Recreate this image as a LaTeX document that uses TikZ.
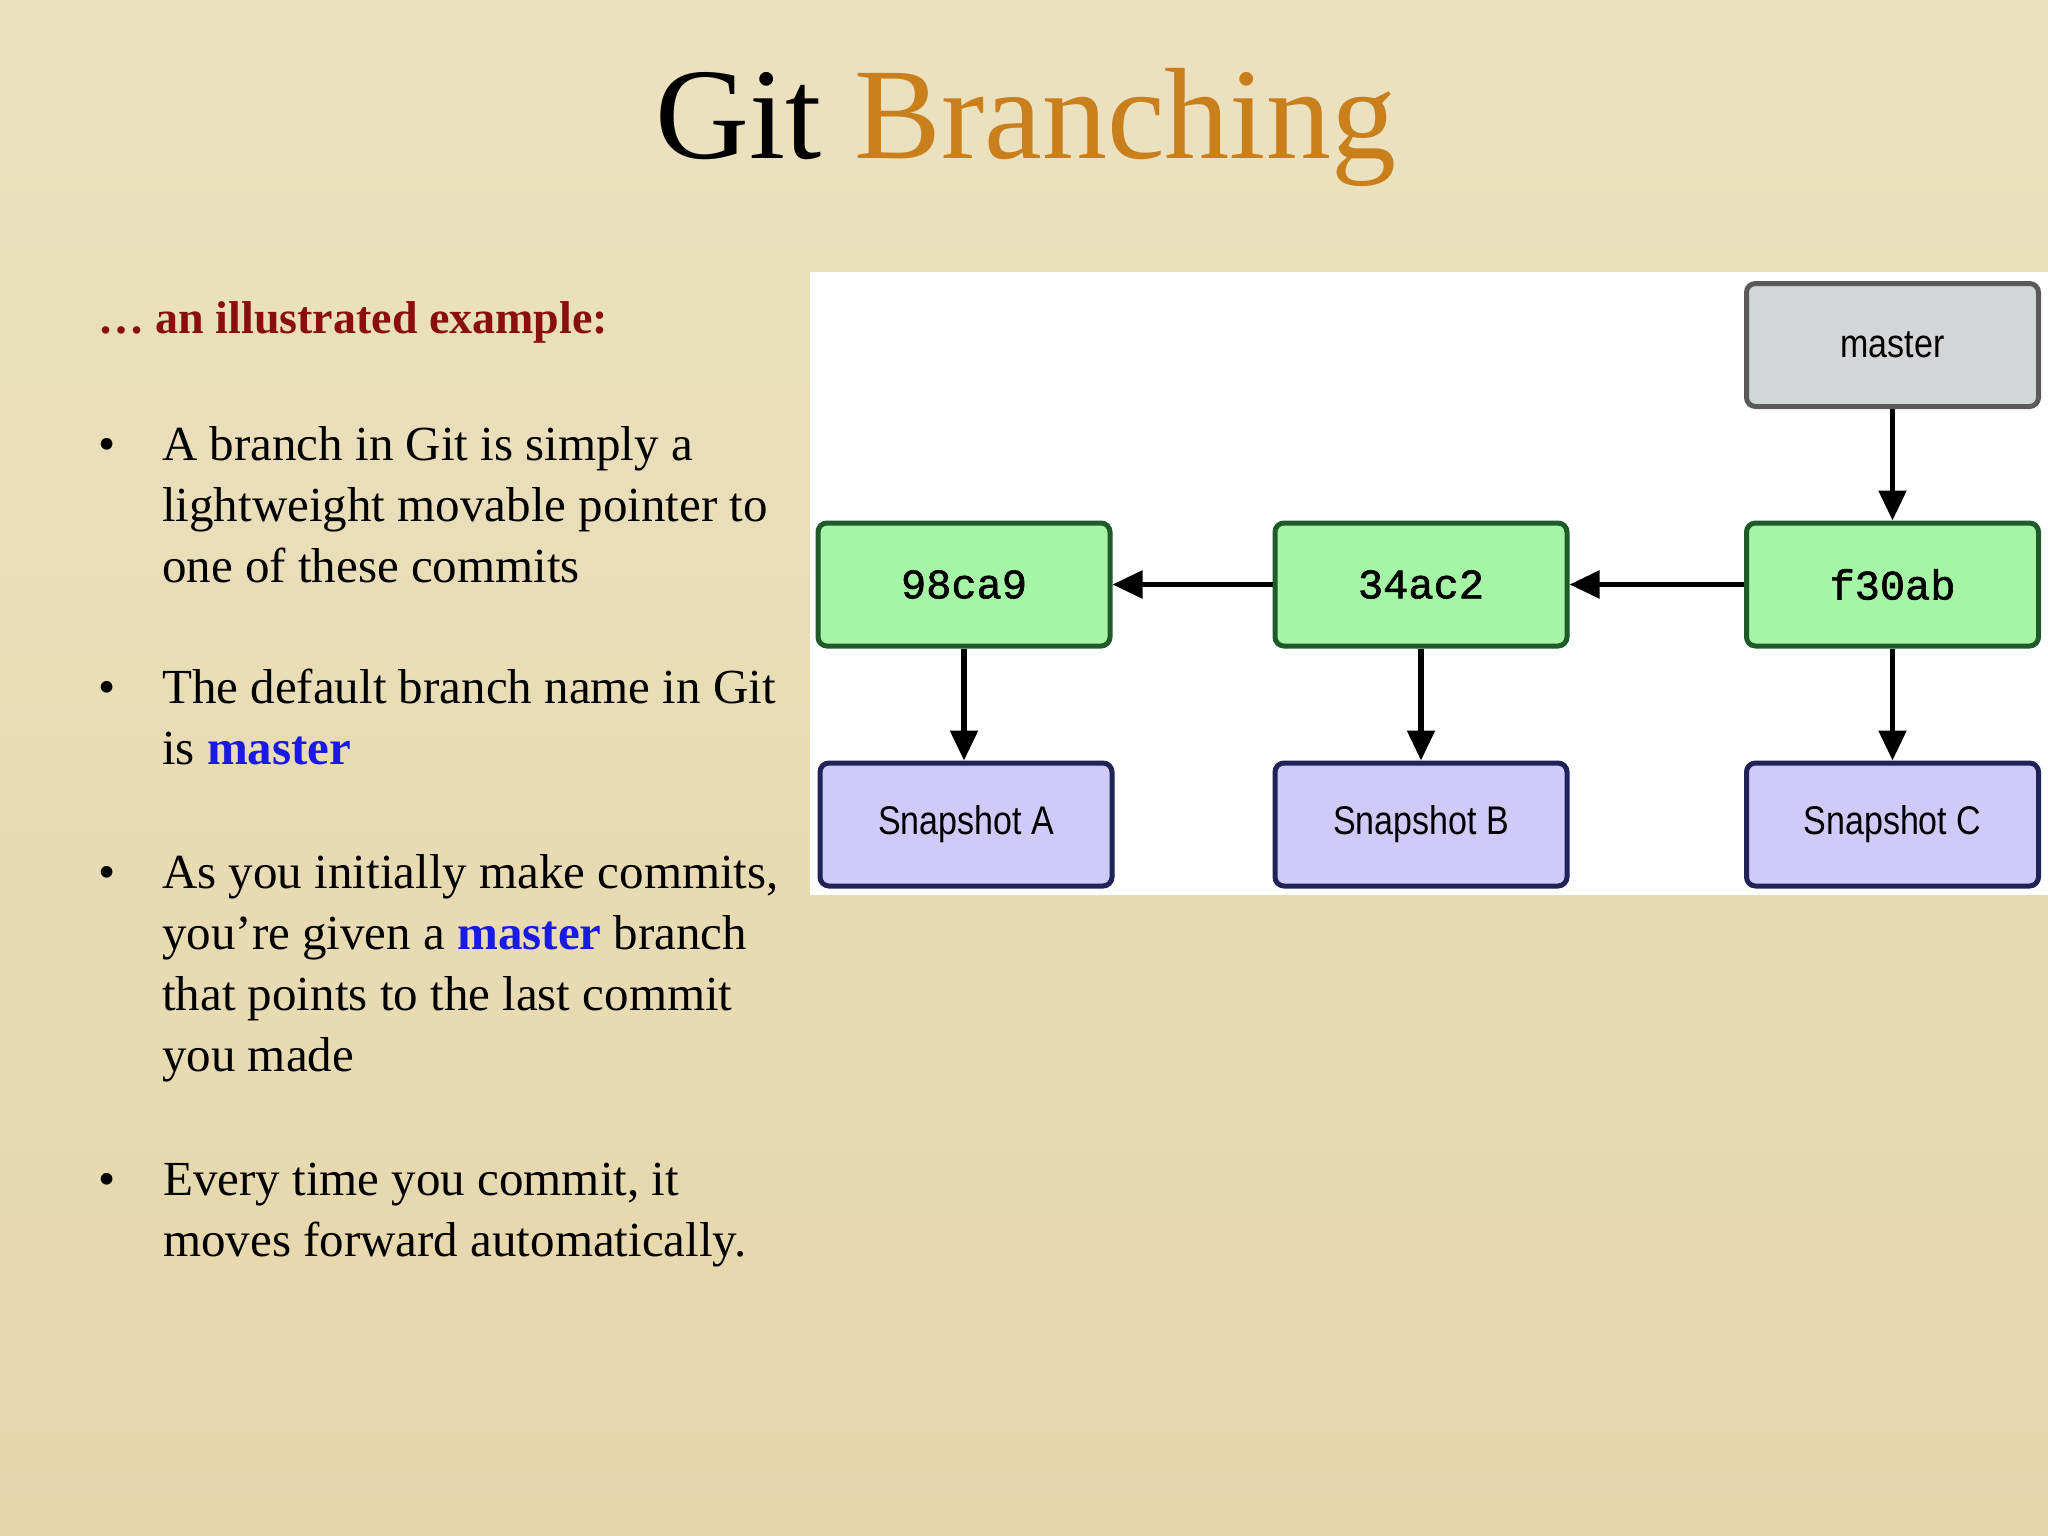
\documentclass[tikz,border=0pt]{standalone}
\usepackage{fontspec}
\setmainfont{Liberation Serif}
\newfontfamily\boxsans[FakeStretch=0.85]{Liberation Sans}
\newfontfamily\boxmono[FakeBold=1.5]{Liberation Mono}
\usetikzlibrary{arrows.meta}
\definecolor{bgtop}{HTML}{EBE2C0}
\definecolor{bgmid}{HTML}{F2EBD0}
\definecolor{bgbot}{HTML}{E6D6AA}
\definecolor{titleorange}{HTML}{C97F1C}
\definecolor{headred}{HTML}{8B0E0E}
\definecolor{kwblue}{HTML}{1A1AE6}
\definecolor{gfill}{HTML}{A6F4A6}
\definecolor{gdraw}{HTML}{1F5A2A}
\definecolor{pfill}{HTML}{CFCBF9}
\definecolor{pdraw}{HTML}{1F2357}
\definecolor{mfill}{HTML}{D2D6D6}
\definecolor{mdraw}{HTML}{5A5A5A}
\tikzset{
  bodyline/.style={anchor=base west, inner sep=0pt, font=\fontsize{49}{61}\selectfont},
  bul/.style={anchor=base west, inner sep=0pt, font=\fontsize{49}{61}\selectfont},
  gitbox/.style={rounded corners=9pt, line width=5pt, minimum width=292pt, minimum height=123pt, inner sep=0pt},
  commit/.style={gitbox, fill=gfill, draw=gdraw, font=\boxmono\fontsize{42}{42}\selectfont},
  snap/.style={gitbox, fill=pfill, draw=pdraw, font=\boxsans\fontsize{40}{40}\selectfont},
  branch/.style={gitbox, fill=mfill, draw=mdraw, font=\boxsans\fontsize{40}{40}\selectfont},
  conn/.style={line width=5.5pt, -{Triangle[length=30pt,width=27pt]}}
}
\newcommand{\kwm}{\textcolor{kwblue}{\bfseries master}}
\begin{document}
\begin{tikzpicture}[x=1pt,y=-1pt]
\useasboundingbox (0,0) rectangle (2048,1536);
\shade[top color=bgtop, middle color=bgmid, bottom color=bgbot] (0,0) rectangle (2048,1536);

% title
\node[anchor=base, inner sep=0pt, font=\fontsize{130}{150}\selectfont] (title) at (1026,159) {Git \textcolor{titleorange}{Branching}};

% left text
\node[anchor=base west, inner sep=0pt, font=\fontsize{46}{58}\selectfont\bfseries, text=headred] (head) at (98,333) {… an illustrated example:};

\node[bul] (d1) at (98,460) {•};
\node[bodyline] (b1a) at (162,460) {A branch in Git is simply a};
\node[bodyline] (b1b) at (162,521) {lightweight movable pointer to};
\node[bodyline] (b1c) at (162,582) {one of these commits};

\node[bul] (d2) at (98,703) {•};
\node[bodyline] (b2a) at (162,703) {The default branch name in Git};
\node[bodyline] (b2b) at (162,764) {is \kwm};

\node[bul] (d3) at (98,888) {•};
\node[bodyline] (b3a) at (162,888) {As you initially make commits,};
\node[bodyline] (b3b) at (162,949) {you’re given a \kwm{} branch};
\node[bodyline] (b3c) at (162,1010) {that points to the last commit};
\node[bodyline] (b3d) at (162,1071) {you made};

\node[bul] (d4) at (98,1195) {•};
\node[bodyline] (b4a) at (163,1195) {Every time you commit, it};
\node[bodyline] (b4b) at (163,1256) {moves forward automatically.};

% diagram panel
\fill[white] (810,272) rectangle (2048,895);

\node[branch] (master) at (1892.5,345) {master};
\node[commit] (c1) at (964,584.5) {98ca9};
\node[commit] (c2) at (1421,584.5) {34ac2};
\node[commit] (c3) at (1892.5,584.5) {f30ab};
\node[snap] (sA) at (966,824.5) {Snapshot A};
\node[snap] (sB) at (1421,824.5) {Snapshot B};
\node[snap] (sC) at (1892.5,824.5) {Snapshot C};

\draw[conn] (master) -- (c3);
\draw[conn] (c3) -- (c2);
\draw[conn] (c2) -- (c1);
\draw[conn] (c1) -- (c1 |- sA.north);
\draw[conn] (c2) -- (sB);
\draw[conn] (c3) -- (sC);
\end{tikzpicture}
\end{document}
